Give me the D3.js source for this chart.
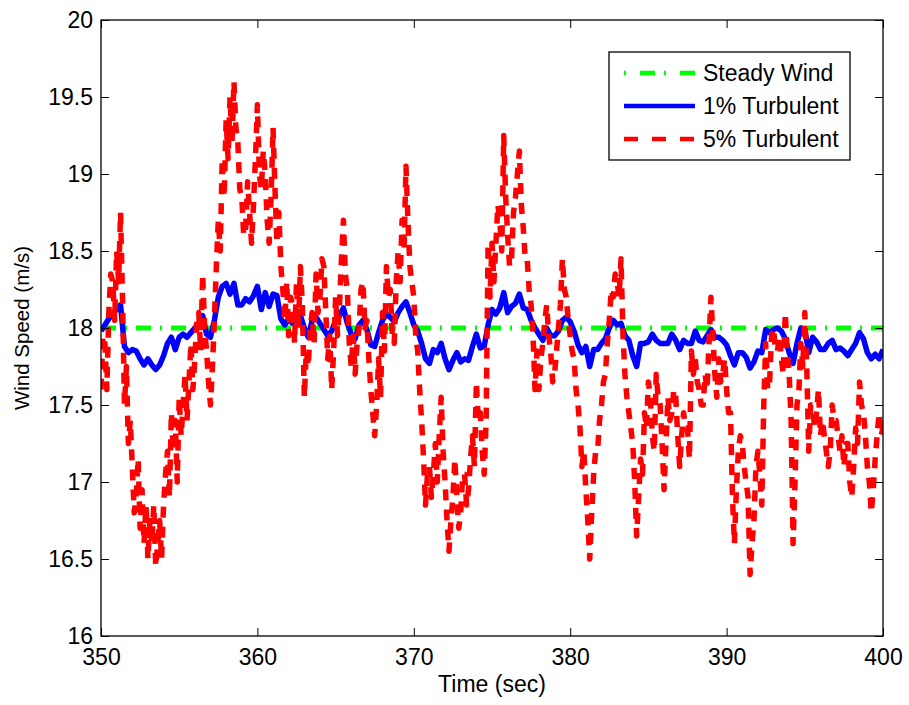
<!DOCTYPE html>
<meta charset="utf-8">
<style>
  body { margin: 0; background: #fff; }
  text { font-family: "Liberation Sans", Arial, sans-serif; fill: #000; }
</style>

<svg width="909" height="705"></svg>

<script src="https://d3js.org/d3.v7.min.js"></script>
<script>

var tStart = 350;

var steadyWind = 18;

// 1% turbulent wind speed (m/s), one sample every 0.25 s
var step1 = 0.25;
var turb1 = [
  17.98, 18.02, 18.06, 18.09,  18.12, 18.15, 17.88, 17.84,
  17.86, 17.85, 17.8, 17.76,   17.8, 17.76, 17.73, 17.76,
  17.82, 17.9, 17.94, 17.86,   17.94, 17.96, 17.94, 17.97,
  18.0, 18.03, 18.08, 17.96,   17.94, 18.05, 18.2, 18.27,
  18.29, 18.22, 18.29, 18.15,  18.15, 18.19, 18.17, 18.21,
  18.27, 18.12, 18.23, 18.14,  18.22, 18.21, 18.06, 18.02,
  18.06, 18.03, 18.08, 18.08,  18.0, 17.94, 18.05, 18.07,
  18.03, 17.99, 17.95, 17.98,  18.05, 18.08, 18.13, 18.03,
  17.96, 17.93, 18.02, 18.05,  17.99, 17.89, 17.88, 17.97,
  18.05, 18.09, 18.07, 18.04,  18.1, 18.14, 18.17, 18.1,
  18.02, 17.98, 17.9, 17.8,    17.77, 17.86, 17.84, 17.9,
  17.8, 17.73, 17.79, 17.84,   17.78, 17.8, 17.79, 17.88,
  17.96, 17.87, 17.88, 18.02,  18.12, 18.09, 18.13, 18.23,
  18.1, 18.14, 18.16, 18.22,   18.13, 18.12, 18.05, 18.0,
  17.96, 17.92, 18.0, 17.95,   17.95, 17.98, 18.05, 18.07,
  18.04, 17.98, 17.89, 17.84,  17.88, 17.75, 17.86, 17.86,
  17.9, 17.93, 18.0, 18.05,    18.02, 18.03, 17.95, 17.92,
  17.82, 17.75, 17.9, 17.9,    17.91, 17.96, 17.92, 17.9,
  17.9, 17.9, 17.96, 17.92,    17.86, 17.92, 17.9, 17.9,
  17.98, 17.92, 17.91, 17.95,  17.99, 17.94, 17.94, 17.92,
  17.89, 17.82, 17.76, 17.84,  17.84, 17.81, 17.74, 17.78,
  17.85, 17.84, 17.99, 17.97,  17.99, 18.0, 17.98, 17.93,
  17.84, 17.77, 17.9, 18.0,    17.99, 17.84, 17.94, 17.91,
  17.86, 17.86, 17.9, 17.92,   17.86, 17.87, 17.85, 17.82,
  17.86, 17.9, 17.97, 17.93,   17.84, 17.8, 17.83, 17.8,
  17.86
];

// 5% turbulent wind speed (m/s), one sample every 0.125 s (one row = 1 s)
var step5 = 0.125;
var turb5 = [
  17.6, 17.95, 17.9, 17.6, 18.1, 18.35, 18.3, 18.05,
  18.5, 18.3, 18.75, 18.2, 17.5, 17.75, 17.25, 17.4,
  17.1, 16.8, 16.9, 17.15, 16.7, 16.95, 16.6, 16.85,
  16.5, 16.75, 16.6, 16.85, 16.45, 16.6, 16.75, 16.5,
  16.85, 17.05, 17.2, 16.9, 17.45, 17.2, 17.4, 17.0,
  17.55, 17.3, 17.5, 17.7, 17.4, 17.65, 17.9, 17.6,
  17.8, 18.05, 18.1, 17.85, 18.35, 18.0, 17.85, 17.65,
  17.5, 17.75, 18.05, 18.4, 18.7, 18.5, 19.1, 18.85,
  19.35, 19.1, 19.5, 19.2, 19.6, 19.3, 19.2, 18.9,
  18.85, 18.6, 18.65, 18.95, 18.75, 18.55, 18.8, 19.1,
  19.45, 19.0, 18.9, 19.15, 19.0, 18.7, 18.55, 18.85,
  19.3, 18.9, 18.55, 18.75, 18.4, 18.25, 18.05, 18.3,
  17.95, 18.2, 18.15, 17.9, 18.3, 18.0, 18.4, 18.15,
  17.55, 17.85, 17.75, 18.0, 18.1, 17.9, 18.35, 18.1,
  18.2, 18.45, 18.4, 18.1, 17.8, 17.95, 17.6, 17.85,
  18.2, 17.95, 18.15, 18.45, 18.7, 18.35, 18.25, 17.9,
  17.75, 17.95, 17.7, 17.9, 18.0, 18.25, 18.3, 18.0,
  18.05, 17.8, 17.6, 17.45, 17.3, 17.5, 17.8, 17.55,
  18.1, 17.85, 18.4, 18.2, 18.25, 17.95, 17.9, 18.3,
  18.5, 18.3, 18.7, 18.5, 19.05, 18.7, 18.4, 18.3,
  18.2, 17.95, 17.85, 17.6, 17.4, 17.15, 16.85, 17.05,
  17.1, 16.9, 17.05, 17.25, 17.0, 17.3, 17.55, 17.2,
  17.0, 16.75, 16.55, 16.75, 16.9, 17.15, 16.9, 16.7,
  16.8, 17.05, 17.05, 16.85, 16.95, 17.15, 17.3, 17.1,
  17.65, 17.4, 17.45, 17.2, 17.05, 17.4, 18.55, 18.2,
  18.55, 18.3, 18.55, 18.8, 18.7, 18.5, 19.25, 18.85,
  18.6, 18.4, 18.45, 18.75, 18.85, 19.0, 19.15, 18.8,
  18.65, 18.45, 18.45, 18.25, 18.15, 17.95, 17.6, 17.85,
  17.6, 17.8, 17.9, 18.05, 18.15, 17.95, 17.85, 17.65,
  17.7, 17.85, 18.0, 18.15, 18.45, 18.25, 18.2, 18.05,
  17.95, 17.85, 17.8, 17.6, 17.5, 17.35, 17.1, 17.2,
  16.95, 16.75, 16.5, 16.8, 17.05, 17.2, 17.2, 17.4,
  17.5, 17.65, 17.7, 17.9, 18.05, 18.25, 18.2, 18.35,
  18.3, 18.2, 18.45, 17.95, 17.7, 17.55, 17.45, 17.35,
  17.25, 17.0, 16.65, 16.9, 17.15, 17.05, 17.45, 17.35,
  17.65, 17.55, 17.3, 17.2, 17.7, 17.55, 17.5, 17.25,
  16.95, 17.25, 17.55, 17.4, 17.45, 17.6, 17.55, 17.3,
  17.1, 17.3, 17.45, 17.35, 17.35, 17.15, 17.85, 17.7,
  17.8, 17.65, 17.6, 17.5, 17.5, 17.7, 17.6, 17.9,
  18.2, 17.95, 17.7, 17.55, 17.8, 17.65, 17.7, 17.8,
  17.6, 17.45, 17.45, 16.9, 16.6, 16.95, 17.2, 17.3,
  17.25, 17.1, 17.0, 16.9, 16.4, 16.6, 16.75, 17.1,
  17.2, 17.05, 16.85, 17.5, 17.9, 17.6, 17.65, 17.95,
  18.0, 17.85, 17.85, 17.95, 17.8, 17.7, 18.1, 17.85,
  17.7, 17.4, 16.6, 17.0, 17.5, 17.6, 17.9, 17.75,
  18.1, 17.75, 17.2, 17.5, 17.5, 17.35, 17.45, 17.6,
  17.3, 17.4, 17.3, 17.2, 17.1, 17.2, 17.5, 17.4,
  17.4, 17.3, 17.2, 17.3, 17.1, 17.25, 17.25, 17.0,
  16.9, 17.1, 17.35, 17.25, 17.65, 17.5, 17.45, 17.3,
  17.1, 17.0, 16.8, 16.95, 17.15, 17.3, 17.45, 17.3,
  17.35
];

var xTicks = [350, 360, 370, 380, 390, 400];
var yTicks = [16, 16.5, 17, 17.5, 18, 18.5, 19, 19.5, 20];
var seriesNames = ["Steady Wind", "1% Turbulent", "5% Turbulent"];
var seriesColors = ["#00ff00", "#0000ff", "#ff0000"];
var seriesDash = ["15,9,2,9", null, "11,9"];
var seriesWidth = [5, 5.5, 5.5];

var svg = d3.select("svg");
var margin = {top: 20, right: 26, bottom: 69, left: 101};
var width = +svg.attr("width") - margin.left - margin.right;
var height = +svg.attr("height") - margin.top - margin.bottom;

var g = svg.append("g")
  .attr("transform", "translate(" + margin.left + "," + margin.top + ")");

var x = d3.scaleLinear().domain([350, 400]).range([0, width]);
var y = d3.scaleLinear().domain([16, 20]).range([height, 0]);

function toPoints(arr, step) {
  return arr.map(function(v, i) { return {t: tStart + i * step, v: v}; });
}

var series = [
  [{t: 350, v: steadyWind}, {t: 400, v: steadyWind}],
  toPoints(turb1, step1),
  toPoints(turb5, step5)
];

var line = d3.line()
  .x(function(d) { return x(d.t); })
  .y(function(d) { return y(d.v); });

g.append("defs").append("clipPath").attr("id", "clip")
  .append("rect").attr("width", width).attr("height", height);

var plot = g.append("g").attr("clip-path", "url(#clip)");

series.forEach(function(s, i) {
  plot.append("path")
    .datum(s)
    .attr("fill", "none")
    .attr("stroke", seriesColors[i])
    .attr("stroke-width", seriesWidth[i])
    .attr("stroke-linejoin", "round")
    .attr("stroke-dasharray", seriesDash[i])
    .attr("d", line);
});

// axes, ticks pointing inward on all four sides
var fontSize = 23;

g.append("g")
  .attr("transform", "translate(0," + height + ")")
  .call(d3.axisBottom(x).tickValues(xTicks).tickSize(-8).tickSizeOuter(0).tickPadding(13));

g.append("g")
  .call(d3.axisLeft(y).tickValues(yTicks).tickSize(-8).tickSizeOuter(0).tickPadding(8)
    .tickFormat(d3.format("")));

g.append("g")
  .call(d3.axisTop(x).tickValues(xTicks).tickSize(-8).tickSizeOuter(0).tickFormat(""));

g.append("g")
  .attr("transform", "translate(" + width + ",0)")
  .call(d3.axisRight(y).tickValues(yTicks).tickSize(-8).tickSizeOuter(0).tickFormat(""));

g.selectAll(".tick line").attr("stroke", "#000").attr("stroke-width", 1);
g.selectAll(".domain").remove();
g.selectAll(".tick text")
  .attr("font-size", fontSize)
  .attr("font-family", "'Liberation Sans', Arial, sans-serif")
  .attr("fill", "#000");

g.append("rect")
  .attr("width", width)
  .attr("height", height)
  .attr("fill", "none")
  .attr("stroke", "#000")
  .attr("stroke-width", 1.3);

// axis labels
g.append("text")
  .attr("x", width / 2)
  .attr("y", height + 56)
  .attr("text-anchor", "middle")
  .attr("font-size", fontSize)
  .text("Time (sec)");

g.append("text")
  .attr("transform", "translate(" + (-72) + "," + (height / 2) + ") rotate(-90)")
  .attr("text-anchor", "middle")
  .attr("font-size", 20.5)
  .text("Wind Speed (m/s)");

// legend
var legend = g.append("g")
  .attr("transform", "translate(" + (609 - margin.left) + "," + (52 - margin.top) + ")");

legend.append("rect")
  .attr("width", 241)
  .attr("height", 108)
  .attr("fill", "#fff")
  .attr("stroke", "#000")
  .attr("stroke-width", 1.3);

var rowY = [21, 54, 87];

seriesNames.forEach(function(name, i) {
  legend.append("line")
    .attr("x1", 15).attr("x2", 86)
    .attr("y1", rowY[i]).attr("y2", rowY[i])
    .attr("stroke", seriesColors[i])
    .attr("stroke-width", 4.5)
    .attr("stroke-dasharray", i === 2 ? "14,14" : (i === 0 ? "2,14,15,9,2,14,15,9,2" : null));
  legend.append("text")
    .attr("x", 94)
    .attr("y", rowY[i])
    .attr("dy", "0.35em")
    .attr("font-size", fontSize)
    .text(name);
});

</script>
